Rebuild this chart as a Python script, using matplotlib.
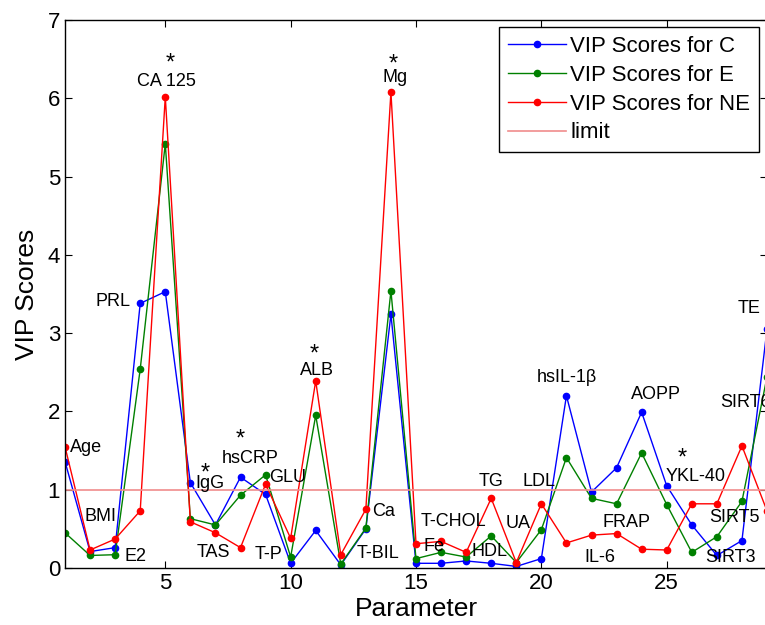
import matplotlib
matplotlib.use("Agg")
import matplotlib.pyplot as plt

plt.rcParams['font.family'] = ['Liberation Sans', 'DejaVu Sans']

params = list(range(1, 30))
vip_c = [1.36, 0.21, 0.26, 3.38, 3.53, 1.09, 0.55, 1.16, 0.94, 0.06,
         0.48, 0.04, 0.50, 3.24, 0.06, 0.06, 0.09, 0.06, 0.02, 0.12,
         2.20, 0.97, 1.28, 1.99, 1.05, 0.55, 0.16, 0.35, 3.05]
vip_e = [0.45, 0.16, 0.17, 2.54, 5.42, 0.63, 0.55, 0.93, 1.19, 0.14,
         1.95, 0.05, 0.51, 3.54, 0.12, 0.20, 0.14, 0.41, 0.07, 0.49,
         1.41, 0.89, 0.82, 1.47, 0.81, 0.20, 0.40, 0.85, 2.44]
vip_ne = [1.55, 0.23, 0.37, 0.73, 6.02, 0.59, 0.45, 0.26, 1.07, 0.38,
          2.39, 0.17, 0.75, 6.08, 0.31, 0.34, 0.20, 0.89, 0.07, 0.82,
          0.32, 0.42, 0.44, 0.24, 0.23, 0.82, 0.82, 1.56, 0.73]
limit_value = 1.0

# annotation labels: (text, x, y, horizontal alignment)
labels = [
    ("Age", 1.2, 1.54, 'left'), ("BMI", 2.4, 0.66, 'center'),
    ("E2", 3.8, 0.15, 'center'), ("PRL", 2.9, 3.40, 'center'),
    ("CA 125", 5.05, 6.21, 'center'), ("IgG", 6.78, 1.08, 'center'),
    ("hsCRP", 8.4, 1.40, 'center'), ("TAS", 6.92, 0.20, 'center'),
    ("T-P", 9.12, 0.17, 'center'), ("GLU", 9.88, 1.15, 'center'),
    ("ALB", 11.04, 2.52, 'center'), ("T-BIL", 13.5, 0.18, 'center'),
    ("Ca", 13.7, 0.72, 'center'), ("Mg", 14.16, 6.27, 'center'),
    ("T-CHOL", 16.48, 0.59, 'center'), ("Fe", 15.7, 0.27, 'center'),
    ("HDL", 17.92, 0.21, 'center'), ("TG", 18.0, 1.10, 'center'),
    ("UA", 19.08, 0.57, 'center'), ("LDL", 19.92, 1.10, 'center'),
    ("hsIL-1\u03b2", 21.0, 2.43, 'center'), ("IL-6", 22.32, 0.13, 'center'),
    ("FRAP", 23.4, 0.58, 'center'), ("AOPP", 24.56, 2.22, 'center'),
    ("YKL-40", 26.16, 1.17, 'center'), ("SIRT5", 27.72, 0.65, 'center'),
    ("SIRT3", 27.56, 0.13, 'center'), ("SIRT6", 27.12, 2.11, 'left'),
    ("TE", 28.28, 3.32, 'center'),
]
stars = [(5.2, 6.44), (6.6, 1.21), (8.0, 1.64), (10.96, 2.73),
         (14.08, 6.43), (25.6, 1.40)]

fig = plt.figure(figsize=(7.65, 6.25), dpi=100)
ax = fig.add_axes([65/765, 57/625, 702/765, 548/625])

ax.plot(params, vip_c, '-o', color='#0000ff', lw=1, ms=4.5, label='VIP Scores for C')
ax.plot(params, vip_e, '-o', color='#008000', lw=1, ms=4.5, label='VIP Scores for E')
ax.plot(params, vip_ne, '-o', color='#ff0000', lw=1, ms=4.5, label='VIP Scores for NE')
ax.plot([params[0], params[-1]], [limit_value, limit_value], '-', color='#f08c8c',
        lw=1.2, label='limit')

for t, x, y, ha in labels:
    ax.text(x, y, t, fontsize=13, ha=ha, va='center', clip_on=False)
for x, y in stars:
    ax.text(x, y, '*', fontsize=17, ha='center', va='center')

ax.set_xlim(1, 29)
ax.set_ylim(0, 7)
ax.set_xticks([5, 10, 15, 20, 25])
ax.set_yticks(range(0, 8))
ax.tick_params(direction='in', top=True, right=True, labelsize=16, length=5, width=0.8)
for s in ax.spines.values():
    s.set_linewidth(1.0)
ax.set_xlabel('Parameter', fontsize=19, labelpad=2)
ax.set_ylabel('VIP Scores', fontsize=19, labelpad=6)

leg = ax.legend(loc='upper right', bbox_to_anchor=(0.989, 0.987), fontsize=16,
                frameon=True, fancybox=False, framealpha=1, edgecolor='black',
                handlelength=2.6, handletextpad=0.2, borderpad=0.4,
                labelspacing=0.35, borderaxespad=0)
leg.get_frame().set_linewidth(1.0)

fig.savefig('out.png', dpi=100)
